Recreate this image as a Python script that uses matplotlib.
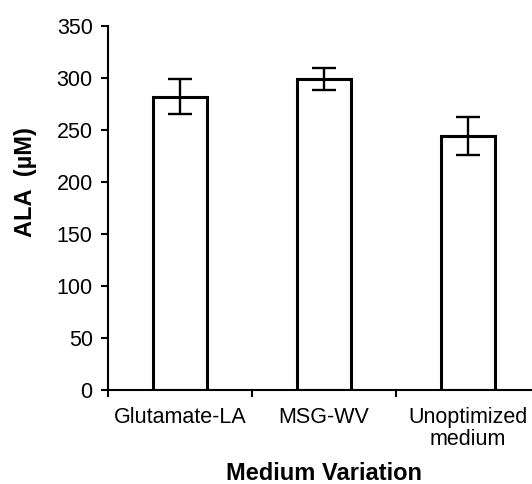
import numpy as np
import matplotlib.pyplot as plt

# ALA yield per medium
categories = ["Glutamate-LA", "MSG-WV", "Unoptimized\nmedium"]
ala_um = [282, 299, 244]
ala_err = [17, 10.5, 18.5]
y_ticks = [0, 50, 100, 150, 200, 250, 300, 350]

plt.rcParams['font.family'] = ['Liberation Sans', 'DejaVu Sans']

fig = plt.figure(figsize=(5.32, 4.84), dpi=100)
# axes runs a bit past the right edge like the original
ax = fig.add_axes([108/532, 1-390/484, 432/532, 364/484])

x = np.arange(len(categories)) + 0.5
ax.bar(x, ala_um, width=0.38, color="white", edgecolor="black", linewidth=2.2,
       yerr=ala_err, capsize=8.5, error_kw=dict(elinewidth=1.7, capthick=1.7, ecolor="black"))

ax.set_xlim(0, 3)
ax.set_ylim(0, 350)
ax.set_yticks(y_ticks)
ax.set_xticks([0, 1, 2, 3])
ax.set_xticklabels([])
ax.set_xticks(x, minor=True)
ax.set_xticklabels(categories, minor=True, fontsize=15.5, linespacing=1.07)
ax.tick_params(axis="x", which="minor", length=0, pad=12)
ax.tick_params(axis="x", which="major", length=5, width=1.5, direction="out")
ax.tick_params(axis="y", length=5, width=1.5, direction="out", labelsize=15.5, pad=6)

ax.spines["top"].set_visible(False)
ax.spines["right"].set_visible(False)
ax.spines["left"].set_linewidth(1.5)
ax.spines["bottom"].set_linewidth(1.5)

ax.set_ylabel("ALA  (µM)", fontsize=17, fontweight="bold")
ax.yaxis.set_label_coords(-0.165, 0.57)
ax.set_xlabel("Medium Variation", fontsize=17, fontweight="bold")
ax.xaxis.set_label_coords(0.5, -0.198)

fig.savefig("out.png", dpi=100)
